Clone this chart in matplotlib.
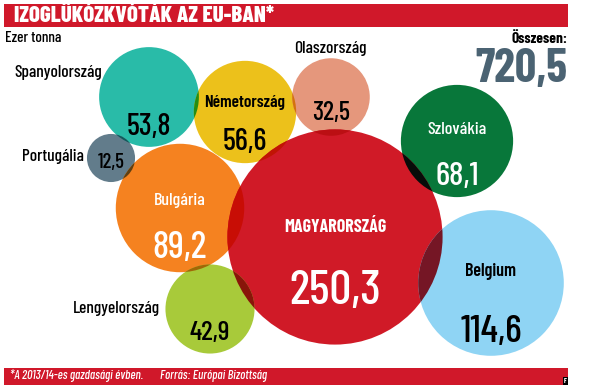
import numpy as np
import matplotlib
matplotlib.use("Agg")
import matplotlib.pyplot as plt
from matplotlib.patches import Circle, Rectangle
from matplotlib.colors import to_rgb

plt.rcParams['font.family'] = ['Barlow Condensed', 'DejaVu Sans']

# data (ezer tonna)
countries = ["Spanyolország", "Portugália", "Németország", "Olaszország", "Szlovákia",
             "Bulgária", "MAGYARORSZÁG", "Belgium", "Lengyelország"]
values = [53.8, 12.5, 56.6, 32.5, 68.1, 89.2, 250.3, 114.6, 42.9]
total = 720.5
colors = ["#29bba8", "#627c8b", "#ecc11b", "#e5977c", "#08773a",
          "#f58220", "#d01a27", "#8fd4f4", "#a8ca3a"]

# layout: bubble centres in pixel space
cx = [149, 111, 245, 331, 457, 180, 335, 491, 210]
cy = [97, 158, 112, 97, 141, 208, 237, 283, 309]
k = 6.8  # px per sqrt(value)

# label placement
name_inside = [False, False, True, False, True, True, True, True, False]
name_dy = [0, 0, -9, 0, -11, -7, -10, -12, 0]
val_dy = [30, 5, 30, 16, 35, 40, 55, 49, 24]
name_col = ["k", "k", "k", "k", "w", "w", "w", "k", "k"]
val_col = ["k", "k", "k", "k", "w", "w", "w", "k", "k"]
val_size = [22, 15, 22, 19, 24, 27, 35, 28, 20]
name_size = [12.5, 12.5, 12.5, 12.5, 13, 13, 13, 13, 12.5]
name_wt = ["medium", "medium", "semibold", "medium", "medium", "medium", "bold", "semibold", "medium"]
# outside labels (x, y, ha)
outside = {"Spanyolország": (102, 73, "right"),
           "Portugália": (84, 157, "right"),
           "Olaszország": (330, 48, "center"),
           "Lengyelország": (160, 309, "right")}


def fmt(v):
    return ("%.1f" % v).replace(".", ",")


fig = plt.figure(figsize=(6, 3.85), dpi=100)
ax = fig.add_axes([0, 0, 1, 1])
ax.set_xlim(0, 600)
ax.set_ylim(385, 0)
ax.axis("off")

radii = [k * np.sqrt(v) for v in values]
patches = []
for i in range(len(values)):
    c = Circle((cx[i], cy[i]), radii[i], facecolor=colors[i], edgecolor="none", zorder=2)
    ax.add_patch(c)
    patches.append(c)

# multiply blend where bubbles overlap
for i in range(len(values)):
    for j in range(i + 1, len(values)):
        d = np.hypot(cx[i] - cx[j], cy[i] - cy[j])
        if d < radii[i] + radii[j]:
            mix = tuple(a * b for a, b in zip(to_rgb(colors[i]), to_rgb(colors[j])))
            o = Circle((cx[j], cy[j]), radii[j], facecolor=mix, edgecolor="none", zorder=3)
            ax.add_patch(o)
            o.set_clip_path(patches[i])

for i, name in enumerate(countries):
    if name_inside[i]:
        ax.text(cx[i], cy[i] + name_dy[i], name, color=name_col[i], fontsize=name_size[i],
                ha="center", va="center", weight=name_wt[i], zorder=5)
    else:
        x, y, ha = outside[name]
        ax.text(x, y, name, color="k", fontsize=name_size[i], weight=name_wt[i],
                ha=ha, va="center", zorder=5)
    ax.text(cx[i], cy[i] + val_dy[i], fmt(values[i]), color=val_col[i], fontsize=val_size[i],
            ha="center", va="center", weight="medium", zorder=5)

# header
ax.add_patch(Rectangle((4, 4), 564, 23, facecolor="#d0182a", edgecolor="none", zorder=1))
ax.text(14, 16, "IZOGLÜKÓZKVÓTÁK AZ EU-BAN*", color="w", fontsize=16.5, weight="heavy",
        ha="left", va="center", zorder=5)
ax.text(5, 38, "Ezer tonna", color="k", fontsize=11, weight="medium", ha="left", va="center")
ax.text(567, 39, "Összesen:", color="k", fontsize=11, weight="bold", ha="right", va="center")
ax.text(567, 82, fmt(total), color="#4b6373", fontsize=34, weight="bold",
        ha="right", va="baseline")

# footer
ax.add_patch(Rectangle((4, 368), 564, 17, facecolor="#d0182a", edgecolor="none", zorder=1))
ax.text(10, 376, "*A 2013/14-es gazdasági évben.", color="w", fontsize=9, style="italic",
        weight="medium", ha="left", va="center")
ax.text(160, 376, "Forrás: Európai Bizottság", color="w", fontsize=9, style="italic",
        weight="medium", ha="left", va="center")
ax.add_patch(Rectangle((563, 377), 5, 8, facecolor="k", edgecolor="none", zorder=2))
ax.text(565.5, 381, "F", color="w", fontsize=5, weight="bold", ha="center", va="center", zorder=3)

fig.savefig("out.png", dpi=100)
